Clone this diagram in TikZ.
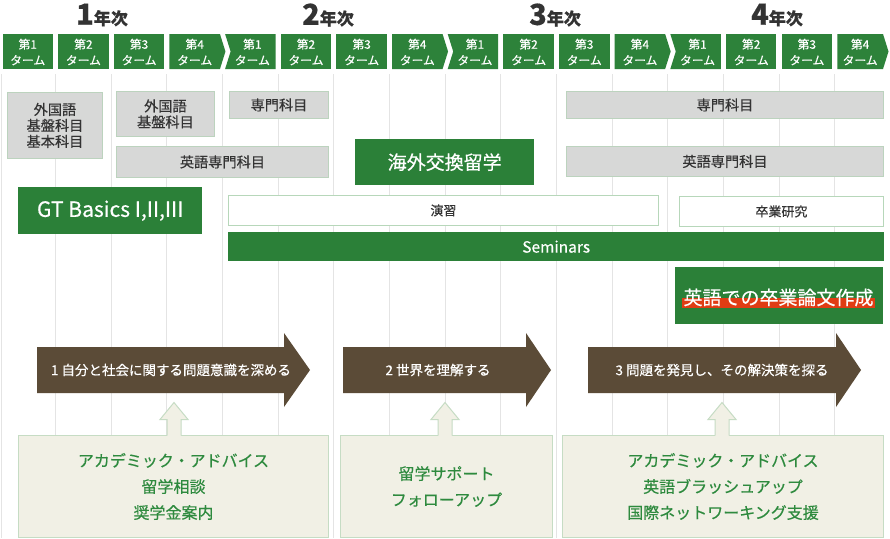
\documentclass[tikz,border=0pt]{standalone}
\usepackage{fontspec}
\setmainfont{Noto Sans CJK JP}[FakeBold=0.45]
\definecolor{hgreen}{HTML}{2D823A}
\definecolor{ggreen}{HTML}{2B8038}
\definecolor{gfill}{HTML}{D7D8D7}
\definecolor{gline}{HTML}{BCD3BE}
\definecolor{wline}{HTML}{B7D7BA}
\definecolor{arrbrown}{HTML}{5B4B37}
\definecolor{bfill}{HTML}{F1F0E5}
\definecolor{bline}{HTML}{C6DCC4}
\definecolor{btext}{HTML}{2E8A3E}
\definecolor{redband}{HTML}{E03C14}
\definecolor{gridc}{HTML}{E4E4E4}
\definecolor{darktext}{HTML}{333333}
\begin{document}
\begin{tikzpicture}[x=1pt,y=-1pt,
  graybox/.style={anchor=north west, fill=gfill, draw=gline, line width=0.9pt, inner sep=0, align=center, text=darktext, font=\fontsize{14.2}{16}\selectfont},
  greenbox/.style={anchor=north west, fill=ggreen, inner sep=0, align=center, text=white},
  whitebox/.style={anchor=north west, fill=white, draw=wline, line width=0.9pt, inner sep=0, align=center, text=darktext, font=\fontsize{13}{16}\selectfont},
  botbox/.style={anchor=north west, fill=bfill, draw=bline, line width=1pt, inner sep=0, align=center, text=btext, font=\fontsize{16}{26}\selectfont},
  arrtext/.style={text=white, font=\fontsize{13.5}{16}\selectfont, inner sep=0},
  htext/.style={text=white, align=center, font=\fontsize{11.8}{16}\selectfont, inner sep=0},
  yeartext/.style={text=darktext, inner sep=0, font=\bfseries},
  gridline/.style={draw=gridc, line width=1pt},
  uparrow/.style={fill=bfill},
  upborder/.style={draw=bline, line width=1pt}
]
\useasboundingbox (0,0) rectangle (890,538);
\fill[white] (0,0) rectangle (890,538);

% grid lines
\draw[gridline] (1,74) -- (1,538);
\foreach \k in {1,...,15}{
  \draw[gridline] ({55.65*\k},74) -- ({55.65*\k},538);
}

% year labels
\node[yeartext] (y1) at (102,15) {\fontsize{29}{29}\selectfont 1\fontsize{17}{17}\selectfont 年次};
\node[yeartext] (y2) at (328,15) {\fontsize{29}{29}\selectfont 2\fontsize{17}{17}\selectfont 年次};
\node[yeartext] (y3) at (555,15) {\fontsize{29}{29}\selectfont 3\fontsize{17}{17}\selectfont 年次};
\node[yeartext] (y4) at (777,15) {\fontsize{29}{29}\selectfont 4\fontsize{17}{17}\selectfont 年次};

% term headers
\foreach \k in {0,...,15}{
  \pgfmathsetmacro\L{2.5+55.65*\k}
  \pgfmathsetmacro\R{\k==15 ? 883 : \L+50.5}
  \pgfmathtruncatemacro\t{mod(\k,4)+1}
  \pgfmathsetmacro\C{(\L+\R)/2}
  \ifnum\t=4
    \fill[hgreen] (\L,34) -- (\R,34) -- (\R+5.5,51.5) -- (\R,69) -- (\L,69) -- cycle;
  \else
    \ifnum\t=1
      \ifnum\k>0
        \fill[hgreen] (\L,34) -- (\R,34) -- (\R,69) -- (\L,69) -- (\L+5.5,51.5) -- cycle;
        \pgfmathsetmacro\C{(\L+\R)/2+2}
      \else
        \fill[hgreen] (\L,34) rectangle (\R,69);
      \fi
    \else
      \fill[hgreen] (\L,34) rectangle (\R,69);
    \fi
  \fi
  \node[htext] (t\k) at (\C,52) {第\t\\ターム};
}

% gray subject boxes
\node[graybox, minimum width=95, minimum height=66] (g1) at (7,92) {外国語\\基盤科目\\基本科目};
\node[graybox, minimum width=98, minimum height=45] (g2) at (116,91) {外国語\\基盤科目};
\node[graybox, minimum width=99, minimum height=27] (g3) at (229,91) {専門科目};
\node[graybox, minimum width=212, minimum height=31] (g4) at (116,146) {英語専門科目};
\node[graybox, minimum width=317, minimum height=27] (g5) at (566,91) {専門科目};
\node[graybox, minimum width=317, minimum height=30] (g6) at (566,146) {英語専門科目};

% green boxes
\node[greenbox, minimum width=184, minimum height=47, font=\fontsize{21}{22}\selectfont] (gt) at (18,187) {GT Basics I,II,III};
\node[greenbox, minimum width=179, minimum height=46, font=\fontsize{19}{20}\selectfont] (ex) at (355,139) {海外交換留学};

% white boxes
\node[whitebox, minimum width=430, minimum height=30] (en) at (228,195) {演習};
\node[whitebox, minimum width=204, minimum height=30] (so) at (679,196) {卒業研究};

% seminars
\node[greenbox, minimum width=656, minimum height=29, font=\fontsize{15.5}{16}\selectfont] (se) at (228,232) {Seminars};

% thesis in English
\node[greenbox, minimum width=208, minimum height=57] (th) at (675,267) {};
\fill[redband] (682,298) rectangle (875,308);
\node[text=white, inner sep=0, font=\fontsize{19}{20}\selectfont] (tht) at (778.5,297.5) {英語での卒業論文作成};

% brown process arrows
\fill[arrbrown] (37,347) -- (284,347) -- (284,333) -- (310,370) -- (284,407) -- (284,393) -- (37,393) -- cycle;
\node[arrtext] (a1) at (171,370) {1 自分と社会に関する問題意識を深める};
\fill[arrbrown] (343,347) -- (526,347) -- (526,333) -- (551,370) -- (526,407) -- (526,393) -- (343,393) -- cycle;
\node[arrtext] (a2) at (438,370) {2 世界を理解する};
\fill[arrbrown] (588,347) -- (836,347) -- (836,333) -- (861,370) -- (836,407) -- (836,393) -- (588,393) -- cycle;
\node[arrtext] (a3) at (722,370) {3 問題を発見し、その解決策を探る};

% support boxes
\node[botbox, minimum width=310, minimum height=102] (b1) at (18,435) {アカデミック・アドバイス\\留学相談\\奨学金案内};
\node[botbox, minimum width=212, minimum height=102] (b2) at (340,435) {留学サポート\\フォローアップ};
\node[botbox, minimum width=321, minimum height=102] (b3) at (562,435) {アカデミック・アドバイス\\英語ブラッシュアップ\\国際ネットワーキング支援};

% up arrows from support boxes
\foreach \c/\b in {174/b1, 445/b2, 722/b3}{
  \coordinate (u) at (\c,435);
  \fill[uparrow] ([xshift=-7pt,yshift=-1.5pt]u) -- ++(0,-17) -- ++(-7,0) -- ++(14,-17) -- ++(14,17) -- ++(-7,0) -- ++(0,17) -- cycle;
  \draw[upborder] ([xshift=-7pt,yshift=-0.5pt]u) -- ++(0,-16) -- ++(-7,0) -- ++(14,-17) -- ++(14,17) -- ++(-7,0) -- ++(0,16);
}
\end{tikzpicture}
\end{document}
